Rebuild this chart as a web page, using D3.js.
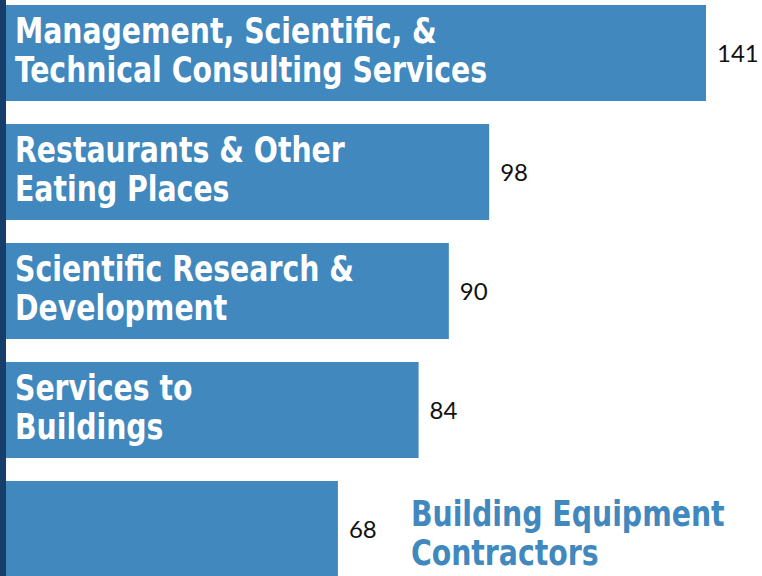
<!DOCTYPE html>
<html>
<head>
<meta charset="utf-8">
<script src="https://cdn.jsdelivr.net/npm/d3@7"></script>
<style>
  html, body { margin: 0; padding: 0; background: #fff; }
  svg { display: block; }
</style>
</head>
<body>
<svg id="chart"></svg>
<script>
// data
const categories = [
  "Management, Scientific, &\nTechnical Consulting Services",
  "Restaurants & Other\nEating Places",
  "Scientific Research &\nDevelopment",
  "Services to\nBuildings",
  "Building Equipment\nContractors"
];
const values = [141, 98, 90, 84, 68];

const width = 762, height = 576;
const barColor = "#4088bd", axisColor = "#173d6a";
const labelFont = "'Liberation Sans Narrow', 'DejaVu Sans Condensed', sans-serif";
const squeeze = 0.875; // no narrow font here, so squeeze the condensed one

const svg = d3.select("#chart")
    .attr("width", width)
    .attr("height", height);

const x = d3.scaleLinear()
    .domain([0, 141])
    .range([-5, 706]);

const y = d3.scaleBand()
    .domain(d3.range(values.length))
    .range([-6.5, 588.5])
    .paddingInner(0.193)
    .paddingOuter(0.0965);

// bars
svg.selectAll("rect.bar")
    .data(values)
    .enter()
    .append("rect")
    .attr("class", "bar")
    .attr("x", x(0))
    .attr("y", (d, i) => y(i))
    .attr("width", d => x(d) - x(0))
    .attr("height", y.bandwidth())
    .attr("fill", barColor);

// value labels
svg.selectAll("text.value")
    .data(values)
    .enter()
    .append("text")
    .attr("class", "value")
    .attr("x", d => x(d) + 11)
    .attr("y", (d, i) => y(i) + y.bandwidth() / 2 + 9)
    .attr("font-family", "Lato, 'Open Sans', sans-serif")
    .attr("font-size", 24)
    .attr("fill", "#111")
    .text(d => d);

// category labels, inside the bar unless it is too short
const labels = svg.selectAll("g.label")
    .data(categories)
    .enter()
    .append("g")
    .attr("class", "label");

labels.each(function (d, i) {
    const g = d3.select(this);
    const lines = d.split("\n");
    const t = g.append("text")
        .attr("transform", `scale(${squeeze},1)`)
        .attr("font-family", labelFont)
        .attr("font-weight", "bold")
        .attr("font-size", 36)
        .attr("fill", "#fff");
    lines.forEach((line, j) => {
        t.append("tspan")
            .attr("x", 0)
            .attr("y", j * 39)
            .text(line);
    });
    const w = t.node().getBBox().width * squeeze;
    const barW = x(values[i]) - x(0);
    const cy = y(i) + y.bandwidth() / 2;
    if (w + 30 > barW) {
        t.attr("fill", barColor);
        g.attr("transform", `translate(${x(values[i]) + 73},${cy - 3})`);
    } else {
        g.attr("transform", `translate(15,${cy - 10})`);
    }
});

// left axis line
svg.append("line")
    .attr("x1", 3)
    .attr("x2", 3)
    .attr("y1", 0)
    .attr("y2", height)
    .attr("stroke", axisColor)
    .attr("stroke-width", 6);
</script>
</body>
</html>
